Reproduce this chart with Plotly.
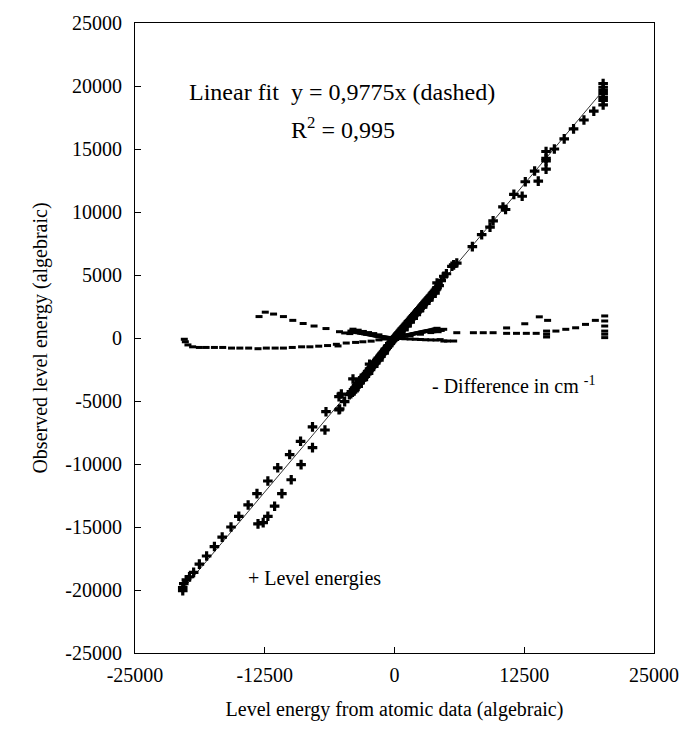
import plotly.graph_objects as go

# ---------------- data ----------------
# Level energies (+ markers): atomic-data energy vs observed energy
level_x = [
    20100, 20100, 20100, 20100, 20100, 20100, 20100,
    19200, 18250, 17250, 16350, 15400, 14600, 14600, 14600, 14600,
    13850, 13500, 12600, 12300, 11500, 10700, 10450, 9500, 9200, 8400,
    7500, 5700, 6000, 4750, 5530, 5000, 4500, 4300, 4100,
    4100, 4050, 3950, 3850, 3750, 3650, 3550, 3450, 3350, 3250, 3150,
    3050, 2950, 2850, 2750, 2650, 2550, 2450, 2350, 2250, 2150, 2050,
    1950, 1850, 1750, 1650, 1550, 1450, 1350, 1250, 1150, 1050, 950,
    850, 750, 650, 550, 450, 350, 250, 150, 50,
    3900, 3600, 3300, 3000, 2700, 2400, 2100, 1800, 1500, 1200, 900, 600, 300,
    0, -50, -150, -200, -300, -400, -450, -550, -650, -700, -800, -900,
    -950, -1050, -1150, -1200, -1300, -1400, -1450, -1550, -1650, -1700,
    -1800, -1900, -1950, -2050, -2150, -2200, -2300, -2400, -2450, -2550,
    -2650, -2700, -2800, -2900, -2950, -3050, -3150, -3200, -3300, -3400,
    -3450, -3550, -3650, -3700, -3800, -3900, -3950, -4050, -4150, -4200,
    -4350, -3500, -3000, -2500, -2000, -1500, -1000,
    -2400, -4000, -5120, -5280, -5350, -4800,
    -6600, -7900, -9050, -10100, -11250, -12200, -13250, -14100, -15000,
    -15750, -16600, -17350, -18100, -18800, -19350, -19750, -20050,
    -20300, -20400, -20400,
    -5350, -6700, -7900, -9000, -9950, -10850, -11550, -12200, -12650, -13150,
]
level_y = [
    20200, 19900, 19650, 19400, 19100, 18850, 18500,
    18000, 17300, 16600, 15800, 15000, 14800, 14250, 14050, 13400,
    12450, 13250, 12400, 11250, 11400, 10200, 10400, 9300, 8800, 8200,
    7250, 5800, 5950, 4900, 5690, 5100, 4550, 4150, 4370,
    4000, 3900, 3800, 3700, 3600, 3500, 3390, 3300, 3200, 3110, 3010,
    2920, 2820, 2730, 2630, 2540, 2440, 2340, 2250, 2150, 2060, 1960,
    1870, 1770, 1680, 1580, 1490, 1380, 1300, 1190, 1100, 1000, 910,
    810, 720, 620, 520, 430, 330, 240, 140, 50,
    3550, 3300, 3000, 2750, 2450, 2150, 1850, 1550, 1250, 950, 650, 400, 150,
    0, -60, -150, -220, -300, -420, -450, -600, -650, -750, -850, -900,
    -1000, -1100, -1200, -1250, -1350, -1450, -1550, -1600, -1700, -1800,
    -1900, -1950, -2050, -2150, -2200, -2300, -2400, -2450, -2600, -2650,
    -2850, -2800, -2950, -2950, -3100, -3150, -3350, -3300, -3450, -3450,
    -3600, -3700, -3750, -3900, -3950, -4200, -4100, -4300, -4250, -4420,
    -4500, -3850, -3300, -2800, -2250, -1750, -1200,
    -2080, -3250, -4450, -5630, -4650, -5050,
    -5850, -7050, -8200, -9250, -10300, -11350, -12350, -13250, -14150,
    -15000, -15800, -16550, -17300, -17950, -18600, -18950, -19200,
    -19500, -19800, -20050,
    -5700, -7300, -8700, -10050, -11250, -12350, -13350, -14150, -14650, -14750,
]

# Difference (observed - calculated, cm-1): short dash markers
diff_x = [
    -20250, -20150, -19900, -19450, -18800, -18150, -17350, -16550, -15700,
    -14900, -14050, -13150, -12350, -11500, -10700, -9850, -8950, -8150,
    -7300, -6450, -5600, -4650, -3750, -3050, -2250, -1500, -900, -5440,
    -13050, -12450, -11650, -10700, -9800, -8800, -7750, -6600, -5300,
    -4800, -4300,
    -4200, -4100, -4000, -3900, -3800, -3700, -3600, -3500, -3400, -3300,
    -3200, -3100, -3000, -2900, -2800, -2700, -2600, -2500, -2400, -2300,
    -2200, -2100, -2000, -1900, -1800, -1700, -1600, -1500, -1400, -1300,
    -1200, -1100, -1000, -900, -800, -700, -600, -500, -400, -300, -200, -100,
    100, 200, 300, 400, 500, 600, 700, 800, 900, 1000, 1100, 1200, 1300,
    1400, 1500, 1600, 1700, 1800, 1900, 2000, 2100, 2200, 2300, 2400, 2500,
    2600, 2700, 2800, 2900, 3000, 3100, 3200, 3300, 3400, 3500, 3600, 3700,
    3800, 3900, 4000, 4100, 4300, 4500, 4740, 3700, 3900, 4200,
    500, 1000, 1500, 2000, 2500, 3000, 3500, 4000, 4400, 4750, 5100, 5700,
    6000, 7600, 8550, 9500, 10800, 10800, 11750, 12550, 12700, 13650, 13950,
    14750, 14650, 14650, 14650, 15550, 16500, 17450, 18400, 19350,
    20250, 20250, 20250, 20250, 20250, 20250,
    -4000, -3500, -3000, -2500, -2000, -1500, 1500, 2500, 3500, 4200,
]
diff_y = [
    -100, -300, -550, -700, -750, -750, -750, -750, -800,
    -800, -800, -850, -800, -800, -800, -750, -700, -700,
    -650, -600, -500, -400, -350, -300, -250, -150, -80, -630,
    1700, 2050, 1900, 1700, 1400, 1150, 950, 750, 500,
    400, 350,
    550, 520, 560, 480, 500, 450, 470, 420, 440, 390,
    400, 360, 370, 330, 340, 300, 310, 280, 270, 250,
    240, 220, 200, 190, 170, 160, 140, 130, 120, 100,
    90, 80, 70, 60, 50, 40, 30, 20, 10, 0, -10, 0,
    -20, 10, 30, 50, 80, 100, 120, 140, 160, 180, 200, 220, 240,
    260, 270, 290, 310, 330, 350, 360, 380, 400, 410, 430, 450,
    470, 480, 500, 520, 540, 550, 570, 590, 600, 620, 640, 650,
    680, 700, 720, 770, 650, 600, 690, 500, 550, 500,
    -40, -60, -80, -100, -120, -140, -150, -160, -130, -240, -240, -240,
    420, 420, 420, 420, 370, 800, 370, 1130, 370, 370, 1680,
    1400, 550, 300, 80, 550, 690, 810, 1080, 1400,
    1750, 1350, 950, 550, 300, 30,
    700, 620, 520, 430, 350, 250, 180, 300, 430, 620,
]

fit_slope = 0.9775

x_tick_vals = [-25000, -12500, 0, 12500, 25000]
x_tick_text = ["-25000", "-12500", "0", "12500", "25000"]
y_tick_vals = [25000, 20000, 15000, 10000, 5000, 0, -5000, -10000, -15000, -20000, -25000]
y_tick_text = ["25000", "20000", "15000", "10000", "5000", "0", "-5000",
               "-10000", "-15000", "-20000", "-25000"]

# ---------------- figure ----------------
FONT = "Liberation Serif, Times New Roman, serif"

fig = go.Figure()

fit_x = [min(level_x), max(level_x)]
fig.add_trace(go.Scatter(
    x=fit_x, y=[fit_slope * v for v in fit_x], mode="lines",
    line=dict(color="black", width=0.8), hoverinfo="skip", showlegend=False))

fig.add_trace(go.Scatter(
    x=diff_x, y=diff_y, mode="markers",
    marker=dict(symbol="line-ew", size=5, color="black",
                line=dict(color="black", width=3)),
    showlegend=False))

fig.add_trace(go.Scatter(
    x=level_x, y=level_y, mode="markers",
    marker=dict(symbol="cross", size=8, color="black",
                line=dict(width=0)),
    showlegend=False))

axis_common = dict(
    showgrid=False, zeroline=False, showline=True, linecolor="black",
    linewidth=1, mirror=True, ticks="inside", ticklen=6, tickcolor="black",
    tickfont=dict(family=FONT, size=20, color="black"),
)

fig.update_xaxes(
    range=[-25000, 25000], tickvals=x_tick_vals, ticktext=x_tick_text,
    title=dict(text="Level energy from atomic data (algebraic)",
               font=dict(family=FONT, size=20, color="black"), standoff=16),
    ticklabelstandoff=4,
    **axis_common)
fig.update_yaxes(
    range=[-25000, 25000], tickvals=y_tick_vals, ticktext=y_tick_text,
    title=dict(text="Observed level energy (algebraic)",
               font=dict(family=FONT, size=20, color="black"), standoff=12),
    ticklabelstandoff=8,
    **axis_common)

fig.add_annotation(x=-19950, y=19500, xref="x", yref="y", xanchor="left",
                   yanchor="middle", showarrow=False,
                   font=dict(family=FONT, size=24, color="black"),
                   text="Linear fit  y = 0,9775x (dashed)")
fig.add_annotation(x=-10210, y=16650, xref="x", yref="y", xanchor="left",
                   yanchor="middle", showarrow=False,
                   font=dict(family=FONT, size=24, color="black"),
                   text="R<sup>2</sup> = 0,995")
fig.add_annotation(x=3430, y=-3750, xref="x", yref="y", xanchor="left",
                   yanchor="middle", showarrow=False,
                   font=dict(family=FONT, size=20, color="black"),
                   text="- Difference in cm <sup>-1</sup>")
fig.add_annotation(x=-14310, y=-19120, xref="x", yref="y", xanchor="left",
                   yanchor="middle", showarrow=False,
                   font=dict(family=FONT, size=20, color="black"),
                   text="+ Level energies")

fig.update_layout(
    width=691, height=747,
    margin=dict(l=135, r=32, t=20, b=94),
    paper_bgcolor="white", plot_bgcolor="white",
    font=dict(family=FONT, size=16, color="black"),
)

fig.write_html("out.html")
